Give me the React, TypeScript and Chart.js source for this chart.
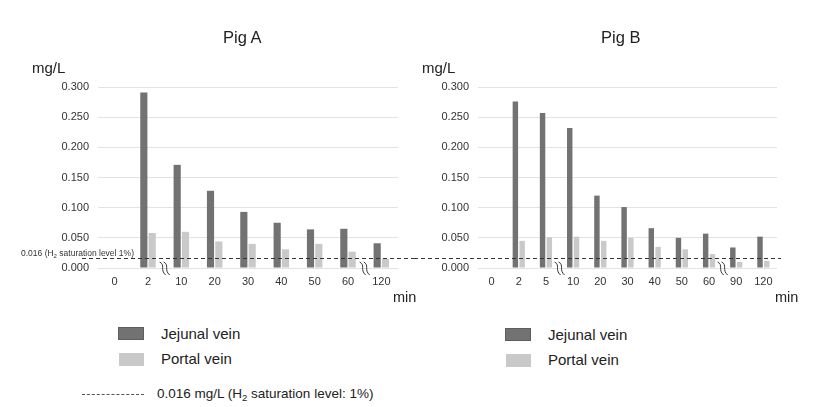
import React, { useEffect, useRef } from "react";
import { Chart, registerables } from "chart.js";

Chart.register(...registerables);

const catsA = ["0", "2", "10", "20", "30", "40", "50", "60", "120"];
const jejunalA = [0, 0.291, 0.171, 0.128, 0.093, 0.075, 0.064, 0.065, 0.041];
const portalA = [0, 0.058, 0.06, 0.044, 0.04, 0.031, 0.04, 0.027, 0.015];
const breaksA = [1, 7];

const catsB = ["0", "2", "5", "10", "20", "30", "40", "50", "60", "90", "120"];
const jejunalB = [0, 0.276, 0.257, 0.232, 0.12, 0.101, 0.066, 0.05, 0.057, 0.034, 0.052];
const portalB = [0, 0.045, 0.051, 0.052, 0.045, 0.05, 0.035, 0.031, 0.023, 0.01, 0.012];
const breaksB = [2, 8];

const saturation = 0.016;
const yTicks = [0, 0.05, 0.1, 0.15, 0.2, 0.25, 0.3];

const FONT = "'Liberation Sans', Arial, Helvetica, sans-serif";
const DARK = "#727272";
const LIGHT = "#c9c9c9";

type PanelProps = {
  cats: string[];
  jej: number[];
  por: number[];
  breaks: number[];
  yAxisWidth: number;
  padRight: number;
  lineFrom: number;
  lineTo: number;
  barPct: number;
};

function Panel(p: PanelProps) {
  const ref = useRef<HTMLCanvasElement | null>(null);
  useEffect(() => {
    if (!ref.current) return;
    const overlay = {
      id: "overlay",
      afterDatasetsDraw(chart: any) {
        const ctx = chart.ctx;
        const xs = chart.scales.x;
        const ys = chart.scales.y;
        const yb = ys.getPixelForValue(0);
        // break marks
        ctx.save();
        ctx.strokeStyle = "#333";
        ctx.lineWidth = 1;
        p.breaks.forEach((i) => {
          const x = (xs.getPixelForValue(i) + xs.getPixelForValue(i + 1)) / 2 + 1;
          [-2, 2].forEach((d) => {
            ctx.beginPath();
            ctx.moveTo(x + d - 4, yb - 6);
            ctx.bezierCurveTo(x + d + 2, yb - 3, x + d - 4, yb + 2, x + d + 2, yb + 7);
            ctx.stroke();
          });
        });
        // saturation line
        const yl = Math.round(ys.getPixelForValue(saturation)) + 0.5;
        ctx.setLineDash([4, 3]);
        ctx.strokeStyle = "#333";
        ctx.beginPath();
        ctx.moveTo(p.lineFrom, yl);
        ctx.lineTo(p.lineTo, yl);
        ctx.stroke();
        ctx.restore();
      },
    };
    const chart = new Chart(ref.current, {
      type: "bar",
      data: {
        labels: p.cats,
        datasets: [
          { label: "Jejunal vein", data: p.jej, backgroundColor: DARK },
          { label: "Portal vein", data: p.por, backgroundColor: LIGHT },
        ],
      },
      options: {
        responsive: false,
        animation: false,
        devicePixelRatio: 1,
        layout: { padding: { left: 0, right: p.padRight, top: 87, bottom: 0 } },
        datasets: { bar: { categoryPercentage: 0.5, barPercentage: p.barPct } } as any,
        plugins: { legend: { display: false }, title: { display: false }, tooltip: { enabled: false } },
        scales: {
          x: {
            grid: { display: false, drawTicks: false },
            border: { display: false },
            ticks: { color: "#333", font: { family: FONT, size: 11 }, padding: 7, maxRotation: 0, autoSkip: false },
            afterFit: (a: any) => {
              a.height = 42;
            },
          },
          y: {
            min: 0,
            max: 0.3,
            grid: { color: "#e2e2e2", drawTicks: false },
            border: { display: false },
            ticks: {
              color: "#333",
              font: { family: FONT, size: 11 },
              padding: 9,
              stepSize: 0.05,
              callback: (v: any) => Number(v).toFixed(3),
            },
            afterBuildTicks: (a: any) => {
              a.ticks = yTicks.map((v) => ({ value: v }));
            },
            afterFit: (a: any) => {
              a.width = p.yAxisWidth;
            },
          },
        },
      },
      plugins: [overlay],
    });
    return () => chart.destroy();
  }, []);
  return <canvas ref={ref} width={414} height={310} style={{ display: "block" }} />;
}

const abs = (l: number, t: number, extra: any = {}) => ({
  position: "absolute" as const,
  left: l,
  top: t,
  whiteSpace: "nowrap" as const,
  fontFamily: FONT,
  color: "#222",
  lineHeight: 1,
  ...extra,
});

function Legend({ x, y }: { x: number; y: number }) {
  return (
    <>
      <div style={abs(x, y, { width: 26, height: 13, background: DARK, border: "1px solid #5e5e5e", boxSizing: "border-box" })} />
      <div style={abs(x + 43, y - 1, { fontSize: 15 })}>Jejunal vein</div>
      <div style={abs(x + 1, y + 26, { width: 25, height: 13, background: LIGHT })} />
      <div style={abs(x + 43, y + 24, { fontSize: 15 })}>Portal vein</div>
    </>
  );
}

export default function App() {
  return (
    <div style={{ position: "absolute", left: 0, top: 0, width: 828, height: 407, background: "#fff", overflow: "hidden" }}>
      <div style={{ position: "absolute", left: 0, top: 0 }}>
        <Panel cats={catsA} jej={jejunalA} por={portalA} breaks={breaksA} yAxisWidth={98} padRight={16} lineFrom={82} lineTo={414} barPct={0.86} />
      </div>
      <div style={{ position: "absolute", left: 414, top: 0 }}>
        <Panel cats={catsB} jej={jejunalB} por={portalB} breaks={breaksB} yAxisWidth={64} padRight={51} lineFrom={0} lineTo={367} barPct={0.8} />
      </div>
      <div style={abs(223, 29, { fontSize: 16.5 })}>Pig A</div>
      <div style={abs(601, 29, { fontSize: 16.5 })}>Pig B</div>
      <div style={abs(32, 60, { fontSize: 15 })}>mg/L</div>
      <div style={abs(422, 60, { fontSize: 15 })}>mg/L</div>
      <div style={abs(393, 290, { fontSize: 14.5 })}>min</div>
      <div style={abs(775, 290, { fontSize: 14.5 })}>min</div>
      <div style={abs(21, 249, { fontSize: 8.5, color: "#333" })}>
        0.016 (H<sub style={{ fontSize: 6, verticalAlign: "-2px" }}>2</sub> saturation level 1%)
      </div>
      <Legend x={118} y={327} />
      <Legend x={505} y={328} />
      <div style={abs(82, 394, { width: 62, borderTop: "1px dashed #555" })} />
      <div style={abs(157, 387, { fontSize: 13.5 })}>
        0.016 mg/L (H<sub style={{ fontSize: 9.5, verticalAlign: "-3px", lineHeight: 0 }}>2</sub> saturation level: 1%)
      </div>
    </div>
  );
}
